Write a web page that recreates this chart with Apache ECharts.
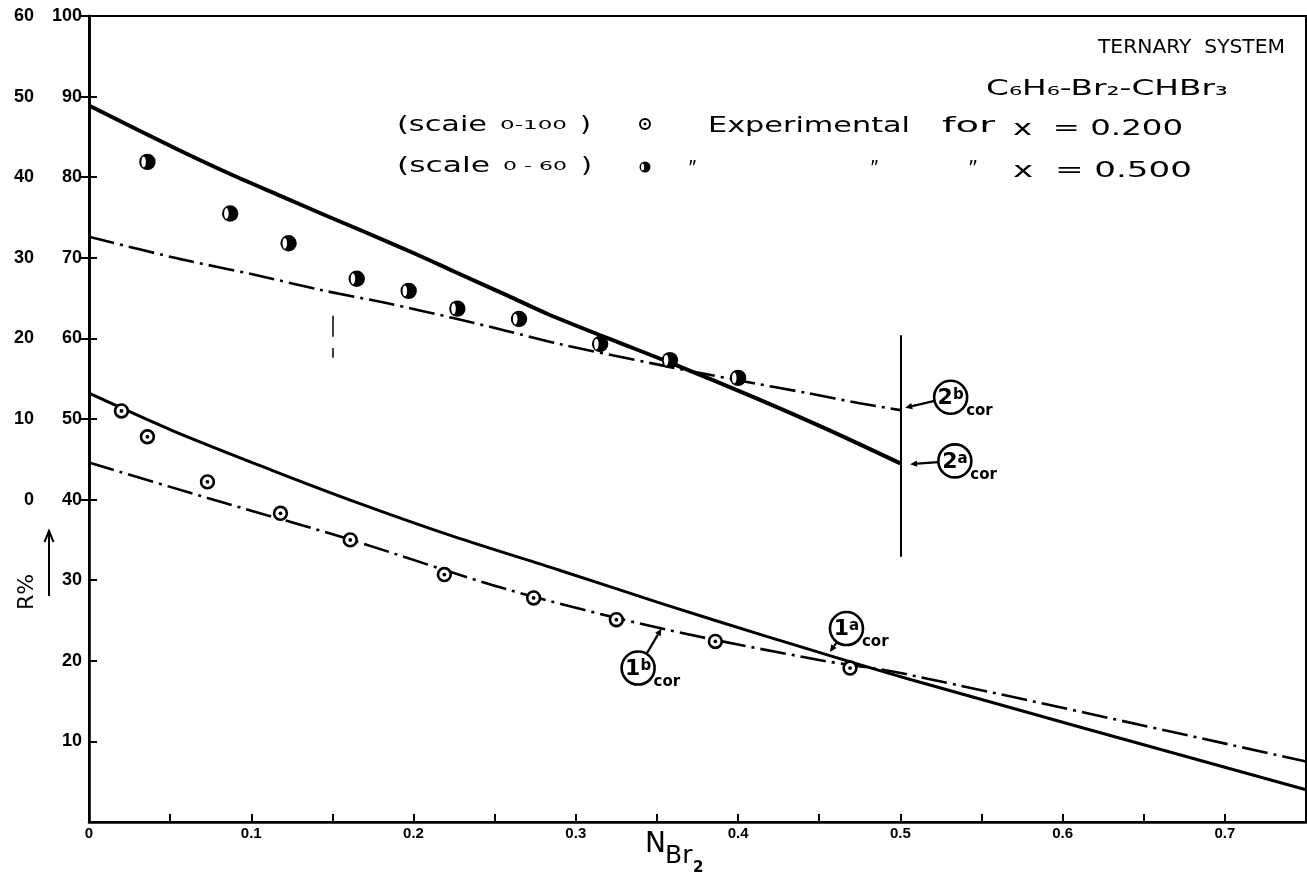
<!DOCTYPE html>
<html>
<head>
<meta charset="utf-8">
<script src="https://cdn.jsdelivr.net/npm/echarts@6/dist/echarts.min.js"></script>
<style>
  html, body { margin: 0; padding: 0; background: #fff; }
  #chart { width: 1307px; height: 877px; }
</style>
</head>
<body>
<div id="chart"></div>
<script>
// ---- data -------------------------------------------------------------
// experimental points, x = 0.200 (read on the 0-100 scale)
const expLowN = [0.020, 0.036, 0.073, 0.118, 0.161, 0.219, 0.274, 0.325, 0.386, 0.469];
const expLowR = [51.0, 47.8, 42.2, 38.3, 35.0, 30.7, 27.8, 25.1, 22.4, 19.1];

// experimental points, x = 0.500 (read on the 0-60 scale)
const expHighN = [0.036, 0.087, 0.123, 0.165, 0.197, 0.227, 0.265, 0.315, 0.358, 0.400];
const expHighR = [41.9, 35.5, 31.8, 27.4, 25.9, 23.7, 22.4, 19.3, 17.3, 15.1];

// corrected curves 1a / 1b (0-100 scale)
const cor1aN = [0, 0.051, 0.112, 0.167, 0.225, 0.289, 0.353, 0.418, 0.504, 0.75];
const cor1aR = [53.2, 48.6, 43.7, 39.5, 35.4, 31.3, 27.1, 23.0, 17.8, 4.0];
const cor1bN = [0, 0.073, 0.160, 0.257, 0.353, 0.450, 0.501, 0.75];
const cor1bR = [44.6, 40.2, 35.1, 28.9, 24.0, 20.1, 18.45, 7.5];

// corrected curves 2a / 2b (0-60 scale)
const cor2aN = [0, 0.055, 0.088, 0.119, 0.143, 0.170, 0.201, 0.225, 0.258, 0.283, 0.320, 0.358, 0.411, 0.453, 0.500];
const cor2aR = [48.9, 43.4, 40.3, 37.6, 35.5, 33.2, 30.5, 28.3, 25.3, 23.0, 20.0, 17.0, 12.6, 8.9, 4.5];
const cor2bN = [0, 0.055, 0.102, 0.143, 0.184, 0.225, 0.258, 0.290, 0.347, 0.400, 0.443, 0.475, 0.500];
const cor2bR = [32.6, 29.9, 27.9, 26.0, 24.35, 22.5, 20.9, 19.3, 16.9, 14.8, 13.2, 11.95, 11.1];

// tick labels
const xTickLabels = ['0', '0.1', '0.2', '0.3', '0.4', '0.5', '0.6', '0.7'];
const innerTickLabels = ['10', '20', '30', '40', '50', '60', '70', '80', '90', '100'];
const outerTickLabels = ['0', '10', '20', '30', '40', '50', '60'];

// x = 0.500 limit line (0-100 scale) and the short broken mark near N = 0.15
const limitLine = [[0.5, 32.9], [0.5, 60.4]];
const brokenMark = [[[0.15, 62.8], [0.15, 60.2]], [[0.15, 58.8], [0.15, 57.6]]];

// curve call-outs: circle centre and arrow tip on the 0-100 scale
const notes = [
  { num: '2', letter: 'b', at: [0.531, 52.7], tip: [0.503, 51.4] },
  { num: '2', letter: 'a', at: [0.5336, 44.8], tip: [0.506, 44.4] },
  { num: '1', letter: 'a', at: [0.4668, 24.0], tip: [0.4566, 21.1] },
  { num: '1', letter: 'b', at: [0.3384, 19.1], tip: [0.3528, 24.0] }
];

// ---- helpers ----------------------------------------------------------
const FONT = '"DejaVu Sans", "Liberation Sans", sans-serif';
const TICKFONT = '"Liberation Sans", Arial, sans-serif';
const zip = (a, b) => a.map((v, i) => [v, b[i]]);

const measureCtx = document.createElement('canvas').getContext('2d');
function textWidth(text, font) {
  measureCtx.font = font;
  return measureCtx.measureText(text).width;
}

// stretched lettering: text placed at its left edge and scaled to a width
function wideText(text, left, cy, width, size, weight) {
  const font = (weight || 'normal') + ' ' + size + 'px ' + FONT;
  const w = textWidth(text, font);
  return {
    type: 'text', x: left, y: cy, scaleX: width / w, silent: true,
    style: { text: text, x: 0, y: 0, font: font, fill: '#000', align: 'left', verticalAlign: 'middle' }
  };
}

function ringDot(params, api) {
  const p = api.coord([api.value(0), api.value(1)]);
  return {
    type: 'group', children: [
      { type: 'circle', shape: { cx: p[0], cy: p[1], r: 6.4 }, style: { fill: '#fff', stroke: '#000', lineWidth: 2.6 } },
      { type: 'circle', shape: { cx: p[0], cy: p[1], r: 1.9 }, style: { fill: '#000' } }
    ]
  };
}

function halfDisc(params, api) {
  const p = api.coord([api.value(0), api.value(1)]);
  return {
    type: 'group', children: [
      { type: 'circle', shape: { cx: p[0], cy: p[1], r: 8.2 }, style: { fill: '#000' } },
      { type: 'circle', x: p[0] - 3.8, y: p[1], scaleX: 0.42, shape: { cx: 0, cy: 0, r: 5.4 }, style: { fill: '#fff' } }
    ]
  };
}

function noteItem(params, api) {
  const n = notes[params.dataIndex];
  const c = api.coord([api.value(0), api.value(1)]);
  const t = api.coord([api.value(2), api.value(3)]);
  const R = 16.5;
  const dx = t[0] - c[0], dy = t[1] - c[1], L = Math.hypot(dx, dy);
  const ux = dx / L, uy = dy / L;
  const s = [c[0] + ux * R, c[1] + uy * R];
  const hl = 7, hw = 3.2;
  const bx = t[0] - ux * hl, by = t[1] - uy * hl;
  const head = [[t[0], t[1]], [bx - uy * hw, by + ux * hw], [bx + uy * hw, by - ux * hw]];
  return {
    type: 'group', children: [
      { type: 'circle', shape: { cx: c[0], cy: c[1], r: R }, style: { fill: 'none', stroke: '#000', lineWidth: 2.6 } },
      { type: 'text', style: {
          text: '{n|' + n.num + '}{l|' + n.letter + '}', x: c[0], y: c[1] + 1, align: 'center', verticalAlign: 'middle',
          rich: {
            n: { fontSize: 22, fontFamily: FONT, fontWeight: 'bold', fill: '#000', lineHeight: 22 },
            l: { fontSize: 15, fontFamily: FONT, fontWeight: 'bold', fill: '#000', lineHeight: 22, padding: [0, 0, 6, 0] }
          } } },
      { type: 'text', style: { text: 'cor', x: c[0] + R - 1, y: c[1] + 14, align: 'left', verticalAlign: 'middle',
          font: 'bold 15px ' + FONT, fill: '#000' } },
      { type: 'line', shape: { x1: s[0], y1: s[1], x2: bx, y2: by }, style: { stroke: '#000', lineWidth: 2.2 } },
      { type: 'polygon', shape: { points: head }, style: { fill: '#000' } }
    ]
  };
}

// ---- chart ------------------------------------------------------------
const chart = echarts.init(document.getElementById('chart'), null, { renderer: 'canvas' });

const axisLineStyle = { color: '#000', width: 2.6 };
const tickLabelStyle = { color: '#000', fontFamily: TICKFONT, fontWeight: 'bold', fontSize: 18 };
const dashDot = [26, 6, 3, 6];

const option = {
  animation: false,
  backgroundColor: '#fff',
  grid: [
    { left: 89, right: 1, top: 16, bottom: 55, show: true, borderColor: '#000', borderWidth: 2, backgroundColor: 'transparent' },
    // 0-60 scale occupies the upper 60 % of the same frame
    { left: 89, right: 1, top: 16, height: 483.6, show: false }
  ],
  xAxis: [
    {
      gridIndex: 0, type: 'value', min: 0, max: 0.75, interval: 0.05,
      axisLine: { lineStyle: axisLineStyle },
      axisTick: { inside: true, length: 8, lineStyle: { color: '#000', width: 2 } },
      splitLine: { show: false },
      axisLabel: {
        ...tickLabelStyle, fontSize: 15, margin: 4, showMaxLabel: false,
        formatter: v => {
          const k = Math.round(v * 20);
          return k % 2 === 0 ? (xTickLabels[k / 2] || '') : '';
        }
      }
    },
    { gridIndex: 1, type: 'value', min: 0, max: 0.75, show: false }
  ],
  yAxis: [
    {
      gridIndex: 0, type: 'value', min: 0, max: 100, interval: 10, position: 'left',
      axisLine: { show: true, lineStyle: axisLineStyle },
      axisTick: { show: true, inside: true, length: 8, lineStyle: { color: '#000', width: 2 } },
      splitLine: { show: false },
      axisLabel: {
        ...tickLabelStyle, margin: 7,
        formatter: v => (v === 0 ? '' : innerTickLabels[Math.round(v / 10) - 1])
      }
    },
    {
      gridIndex: 1, type: 'value', min: 0, max: 60, interval: 10, position: 'left', offset: 42,
      axisLine: { show: true, lineStyle: axisLineStyle },
      axisTick: { show: true, inside: false, length: 10, lineStyle: { color: '#000', width: 2 } },
      splitLine: { show: false },
      axisLabel: {
        ...tickLabelStyle, margin: 13,
        formatter: v => outerTickLabels[Math.round(v / 10)]
      }
    }
  ],
  series: [
    {
      name: '1a cor', type: 'line', xAxisIndex: 0, yAxisIndex: 0, smooth: 0.3, showSymbol: false,
      data: zip(cor1aN, cor1aR), lineStyle: { color: '#000', width: 3 },
      markLine: {
        silent: true, symbol: ['none', 'none'], label: { show: false },
        lineStyle: { color: '#000', width: 2, type: 'solid' },
        data: [
          [{ coord: limitLine[0] }, { coord: limitLine[1] }],
          [{ coord: brokenMark[0][0], lineStyle: { width: 1.5 } }, { coord: brokenMark[0][1] }],
          [{ coord: brokenMark[1][0], lineStyle: { width: 1.5 } }, { coord: brokenMark[1][1] }]
        ]
      }
    },
    {
      name: '1b cor', type: 'line', xAxisIndex: 0, yAxisIndex: 0, smooth: 0.3, showSymbol: false,
      data: zip(cor1bN, cor1bR), lineStyle: { color: '#000', width: 2.6, type: dashDot }
    },
    {
      name: '2a cor', type: 'line', xAxisIndex: 1, yAxisIndex: 1, smooth: 0.3, showSymbol: false,
      data: zip(cor2aN, cor2aR), lineStyle: { color: '#000', width: 4 }
    },
    {
      name: '2b cor', type: 'line', xAxisIndex: 1, yAxisIndex: 1, smooth: 0.3, showSymbol: false,
      data: zip(cor2bN, cor2bR), lineStyle: { color: '#000', width: 2.6, type: dashDot }
    },
    {
      name: 'Experimental x = 0.200', type: 'custom', xAxisIndex: 0, yAxisIndex: 0,
      renderItem: ringDot, data: zip(expLowN, expLowR), encode: { x: 0, y: 1 }, clip: false, z: 5
    },
    {
      name: 'Experimental x = 0.500', type: 'custom', xAxisIndex: 1, yAxisIndex: 1,
      renderItem: halfDisc, data: zip(expHighN, expHighR), encode: { x: 0, y: 1 }, clip: false, z: 5
    },
    {
      name: 'call-outs', type: 'custom', xAxisIndex: 0, yAxisIndex: 0, renderItem: noteItem, clip: false, z: 6,
      data: notes.map(n => [n.at[0], n.at[1], n.tip[0], n.tip[1]]), encode: { x: [0, 2], y: [1, 3] }
    }
  ],
  graphic: [
    // title block
    wideText('TERNARY  SYSTEM', 1098, 48, 187, 20),
    wideText('C\u2086H\u2086-Br\u2082-CHBr\u2083', 986, 89, 242, 22),
    // scale notes
    wideText('(scaie', 397, 125, 90, 22),
    wideText('0-100', 500, 126, 67, 13),
    wideText(')', 580, 125, 11, 22),
    wideText('(scale', 397, 166, 93, 22),
    wideText('0 - 60', 503, 167, 64, 13),
    wideText(')', 581, 166, 11, 22),
    // legend symbols
    { type: 'circle', silent: true, shape: { cx: 645, cy: 124, r: 5 }, style: { fill: '#fff', stroke: '#000', lineWidth: 2 } },
    { type: 'circle', silent: true, shape: { cx: 645, cy: 124, r: 1.4 }, style: { fill: '#000' } },
    { type: 'circle', silent: true, shape: { cx: 645, cy: 167, r: 5.5 }, style: { fill: '#000' } },
    { type: 'circle', silent: true, x: 642.6, y: 167, scaleX: 0.42, shape: { cx: 0, cy: 0, r: 3.6 }, style: { fill: '#fff' } },
    // legend texts
    wideText('Experimental', 708, 127, 202, 21),
    wideText('for', 942, 127, 53, 21),
    wideText('x  = 0.200', 1013, 130, 170, 21),
    wideText('\u201D', 688, 171, 9, 21),
    wideText('\u201D', 870, 171, 9, 21),
    wideText('\u201D', 968, 171, 10, 21),
    wideText('x  = 0.500', 1013, 172, 179, 21),
    // axis name N_Br2
    { type: 'text', x: 645, y: 845, silent: true, style: { text: 'N', x: 0, y: 0, font: '28px ' + FONT, fill: '#000', verticalAlign: 'middle' } },
    { type: 'text', x: 665, y: 856, silent: true, style: { text: 'Br', x: 0, y: 0, font: '25px ' + FONT, fill: '#000', verticalAlign: 'middle' } },
    { type: 'text', x: 693, y: 868, silent: true, style: { text: '2', x: 0, y: 0, font: 'bold 15px ' + FONT, fill: '#000', verticalAlign: 'middle' } },
    // axis name R% with arrow
    { type: 'text', x: 27, y: 592, rotation: Math.PI / 2, silent: true,
      style: { text: 'R%', x: 0, y: 0, font: '22px ' + FONT, fill: '#000', align: 'center', verticalAlign: 'middle' } },
    { type: 'line', silent: true, shape: { x1: 49, y1: 596, x2: 49, y2: 533 }, style: { stroke: '#000', lineWidth: 2 } },
    { type: 'polyline', silent: true, shape: { points: [[44.5, 542], [49, 531], [53.5, 542]] }, style: { stroke: '#000', lineWidth: 2, fill: 'none' } }
  ]
};

chart.setOption(option);
</script>
</body>
</html>
